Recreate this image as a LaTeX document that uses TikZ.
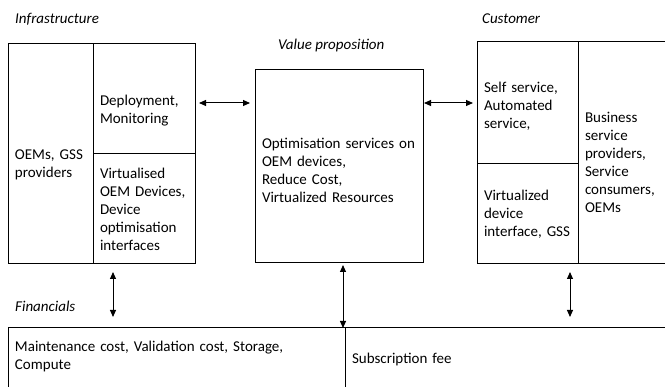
\documentclass[tikz,border=0pt]{standalone}
\usepackage{fontspec}
\setmainfont{Carlito}
\usetikzlibrary{positioning,arrows.meta}
\newcommand{\pushdown}[1]{\rule{0pt}{#1}}
\tikzset{
  cell/.style 2 args={
    draw,
    line width=1pt,
    text width=#1pt,
    minimum height=#2pt,
    inner xsep=7pt,
    inner ysep=0pt,
    outer sep=0pt,
    align=left,
    font=\fontsize{15}{18}\selectfont,
  },
  heading/.style={
    anchor=base west,
    inner sep=0pt,
    font=\fontsize{15}{18}\selectfont\itshape,
  },
  link/.style={
    {Triangle[length=7pt,width=6pt]}-{Triangle[length=7pt,width=6pt]},
    line width=1pt,
  }
}

\begin{document}
\begin{tikzpicture}[x=1pt, y=-1pt, node distance=0pt]
        \clip (0,0) rectangle (665,387);

        % infrastructure
        \node [cell={71}{220}, anchor=north west] (oems) at (8,44) {\pushdown{32pt}OEMs, GSS\\providers};
        \node [cell={88}{110}, anchor=north west] (deploy) at (oems.north east) {\pushdown{34pt}Deployment,\\Monitoring};
        \node [cell={88}{110}, anchor=north west] (virt) at (deploy.south west) {Virtualised\\OEM Devices,\\Device\\optimisation\\interfaces};

        % value proposition
        \node [cell={154}{193}, anchor=north west] (value) at (255,70) {\pushdown{18pt}Optimisation services on\\OEM devices,\\Reduce Cost,\\Virtualized Resources};

        % customer
        \node [cell={87}{122}, anchor=north west] (self) at (477,42) {\pushdown{16pt}Self service,\\Automated\\service,};
        \node [cell={87}{100}, anchor=north west] (vdev) at (self.south west) {Virtualized\\device\\interface, GSS};
        \node [cell={86}{222}, anchor=north west] (biz) at (self.north east) {\pushdown{30pt}Business\\service\\providers,\\Service\\consumers,\\OEMs};

        % financials
        \node [cell={323}{64}, anchor=north west] (cost) at (8,328) {Maintenance cost, Validation cost, Storage,\\Compute\rule[-9pt]{0pt}{9pt}};
        \node [cell={326}{64}, anchor=north west] (fee) at (cost.north east) {Subscription fee};

        \node [heading, above right=20pt and 7pt of oems.north west, anchor=base west] (infra) {Infrastructure};
        \node [heading, above right=20pt and 23pt of value.north west, anchor=base west] (prop) {Value proposition};
        \node [heading, above right=18pt and 5pt of self.north west, anchor=base west] (cust) {Customer};
        \node [heading, above right=16pt and 7pt of cost.north west, anchor=base west] (fin) {Financials};

        \coordinate (h1) at ([yshift=-4pt]deploy.east);
        \draw [link, shorten <=4pt, shorten >=5pt] (h1) -- (h1 -| value.west);
        \draw [link, shorten <=1pt, shorten >=4pt] (self.west -| value.east) -- (self.west);

        \coordinate (v1) at ([xshift=-31pt]virt.south);
        \coordinate (v2) at ([xshift=-2pt]cost.north east);
        \coordinate (v3) at ([xshift=-8pt]vdev.south east);
        \draw [link, shorten <=8pt, shorten >=11pt] (v1) -- (v1 |- cost.north);
        \draw [link, shorten <=2pt] (v2 |- value.south) -- (v2);
        \draw [link, shorten <=8pt, shorten >=11pt] (v3) -- (v3 |- cost.north);
    \end{tikzpicture}
\end{document}
